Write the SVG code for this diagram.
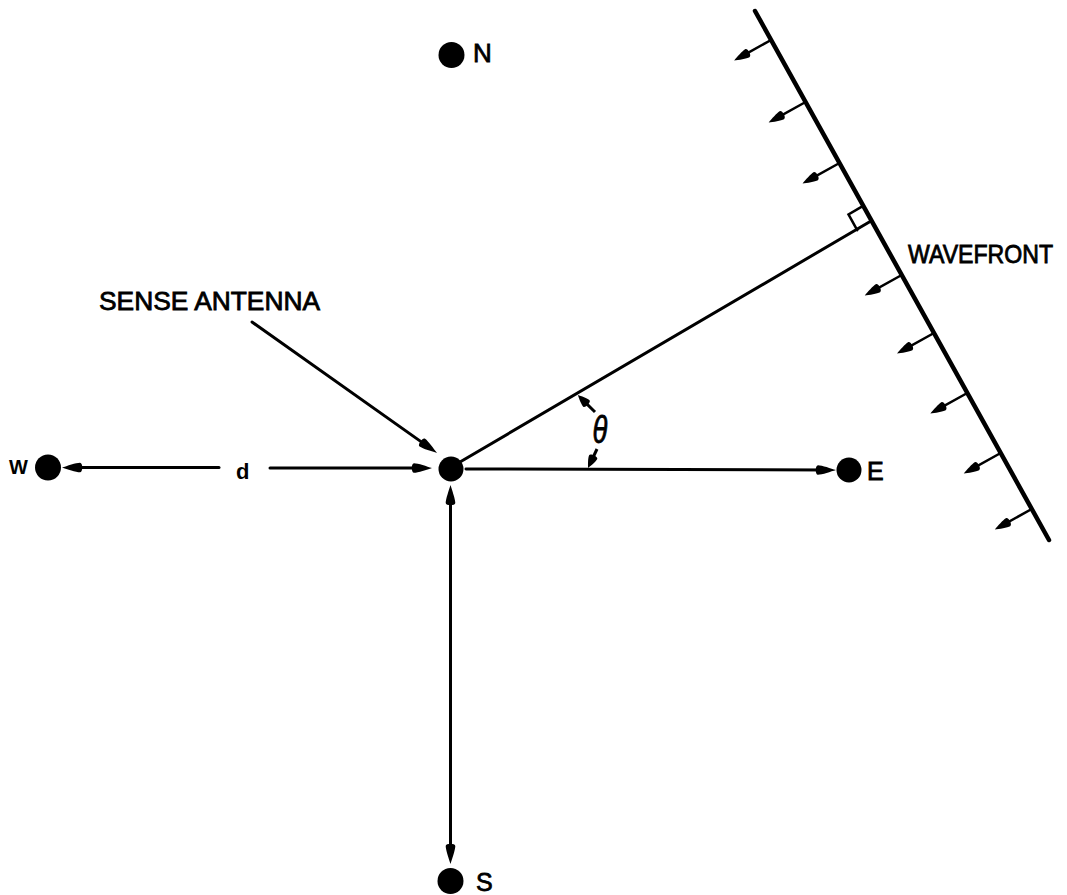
<svg xmlns="http://www.w3.org/2000/svg" width="1067" height="895" viewBox="0 0 1067 895">
  <style>
    .ln { stroke: #000; stroke-width: 3; fill: none; stroke-linecap: round; }
    .wf { stroke: #000; stroke-width: 4.5; fill: none; stroke-linecap: round; }
    .tk { stroke: #000; stroke-width: 2.5; fill: none; stroke-linecap: round; }
    .th { stroke: #000; stroke-width: 3; fill: none; }
    .dot { fill: #000; }
    .lbl { font-family: "Liberation Sans", Arial, sans-serif; fill: #000; stroke: #000; stroke-width: 0.8; }
    .bld { font-family: "Liberation Sans", Arial, sans-serif; font-weight: bold; fill: #000; }
  </style>
  <defs>
    <marker id="ah" viewBox="-22 -6 24 12" markerWidth="24" markerHeight="12" refX="-8" refY="0" orient="auto-start-reverse" markerUnits="userSpaceOnUse">
      <path d="M0,0 C-5,-1.5 -14,-4.8 -18,-4.8 C-21,-4.8 -21,4.8 -18,4.8 C-14,4.8 -5,1.5 0,0 Z" fill="#000"/>
    </marker>
    <marker id="ahw" viewBox="-20 -6 22 12" markerWidth="22" markerHeight="12" refX="-7" refY="0" orient="auto" markerUnits="userSpaceOnUse">
      <path d="M0,0 C-4,-1.5 -12,-4.5 -15,-4.5 C-18,-4.5 -18,4.5 -15,4.5 C-12,4.5 -4,1.5 0,0 Z" fill="#000"/>
    </marker>
    <marker id="aht" viewBox="-18 -6 20 12" markerWidth="20" markerHeight="12" refX="-5" refY="0" orient="auto" markerUnits="userSpaceOnUse">
      <path d="M0,0 C-3,-1.5 -9,-4.5 -12,-4.5 C-14.5,-4.5 -14.5,4.5 -12,4.5 C-9,4.5 -3,1.5 0,0 Z" fill="#000"/>
    </marker>
  </defs>

  <g id="connectors">
    <!-- W arrow -->
    <line class="ln" x1="219" y1="467.5" x2="70" y2="467.5" marker-end="url(#ah)"/>
    <!-- d to sense antenna -->
    <line class="ln" x1="270" y1="468" x2="424" y2="468" marker-end="url(#ah)"/>
    <!-- center to E -->
    <line class="ln" x1="466" y1="469" x2="828" y2="470" marker-end="url(#ah)"/>
    <!-- center to S (double) -->
    <line class="ln" x1="450.5" y1="493" x2="450.5" y2="856" marker-start="url(#ah)" marker-end="url(#ah)"/>
    <!-- sense antenna pointer -->
    <line class="ln" x1="252" y1="322" x2="430.5" y2="448.4" marker-end="url(#ah)"/>
    <!-- ray to wavefront -->
    <line class="ln" x1="460" y1="462" x2="871" y2="221"/>
    <!-- right angle mark -->
    <polyline class="tk" points="862.3,206.3 848.5,214.4 857.2,230.1"/>
    <!-- theta arrows -->
    <line class="th" x1="595" y1="412" x2="581.4" y2="398.6" marker-end="url(#aht)"/>
    <line class="th" x1="597" y1="449" x2="590.2" y2="463.5" marker-end="url(#aht)"/>
  </g>

  <g id="wavefront">
    <line class="wf" x1="755" y1="11" x2="1049" y2="540"/>
    <line class="tk" x1="771.1" y1="40" x2="740.3" y2="57.1" marker-end="url(#ahw)"/>
    <line class="tk" x1="805.6" y1="102" x2="774.8" y2="119.1" marker-end="url(#ahw)"/>
    <line class="tk" x1="839.5" y1="163" x2="808.7" y2="180.1" marker-end="url(#ahw)"/>
    <line class="tk" x1="901.7" y1="275" x2="870.9" y2="292.1" marker-end="url(#ahw)"/>
    <line class="tk" x1="934.0" y1="333" x2="903.2" y2="350.1" marker-end="url(#ahw)"/>
    <line class="tk" x1="967.3" y1="393" x2="936.5" y2="410.1" marker-end="url(#ahw)"/>
    <line class="tk" x1="1000.7" y1="453" x2="969.9" y2="470.1" marker-end="url(#ahw)"/>
    <line class="tk" x1="1031.8" y1="509" x2="1001.0" y2="526.1" marker-end="url(#ahw)"/>
    <text class="lbl" x="908" y="263" font-size="25" textLength="145" lengthAdjust="spacingAndGlyphs">WAVEFRONT</text>
  </g>

  <g id="node-N">
    <circle class="dot" cx="451.5" cy="55" r="13"/>
    <text class="lbl" x="473" y="62" font-size="26">N</text>
  </g>
  <g id="node-W">
    <circle class="dot" cx="48" cy="467.5" r="13"/>
    <text class="bld" x="9" y="474" font-size="20">W</text>
  </g>
  <g id="node-E">
    <circle class="dot" cx="849" cy="470" r="12.5"/>
    <text class="lbl" x="867" y="480" font-size="25">E</text>
  </g>
  <g id="node-S">
    <circle class="dot" cx="450.5" cy="881" r="13"/>
    <text class="lbl" x="476" y="891" font-size="25">S</text>
  </g>
  <g id="node-sense">
    <circle class="dot" cx="451" cy="469" r="12.5"/>
    <text class="lbl" x="99" y="310" font-size="26" textLength="221" lengthAdjust="spacingAndGlyphs">SENSE ANTENNA</text>
  </g>
  <g id="labels">
    <text class="bld" x="236" y="479" font-size="22">d</text>
    <text class="lbl" transform="translate(600,443) scale(0.72,1)" x="0" y="0" font-size="38" font-style="italic" text-anchor="middle" stroke-width="1">θ</text>
  </g>
</svg>
